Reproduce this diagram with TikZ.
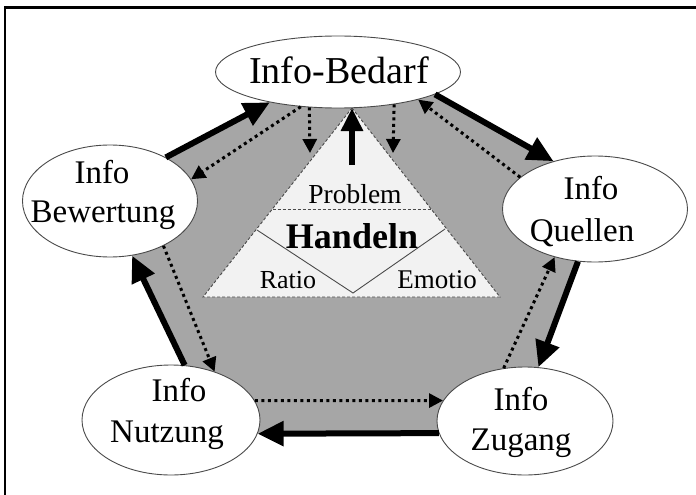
\documentclass[tikz,border=0pt]{standalone}
\usepackage{fontspec}
\setmainfont{Liberation Serif}
\usetikzlibrary{arrows.meta,shapes.geometric}
\definecolor{panelgray}{HTML}{A6A6A6}
\definecolor{trifill}{HTML}{F2F2F2}
\definecolor{edgegray}{HTML}{4A4A4A}

\begin{document}
\begin{tikzpicture}[x=1pt,y=-1pt,
  phase/.style={ellipse, draw=edgegray, line width=0.9pt, fill=white, inner sep=0pt},
  flow/.style={line width=6pt, -{Triangle[length=26pt,width=24pt]}},
  feedback/.style={line width=3pt, dash pattern=on 3pt off 3.5pt,
    -{Triangle[length=14pt,width=14pt]}},
  lbl/.style={anchor=base, inner sep=0pt, font=\fontsize{33}{39}\selectfont},
  inner/.style={anchor=base, inner sep=0pt},
  hairline/.style={draw=edgegray, line width=0.9pt},
  hairdash/.style={hairline, dash pattern=on 3pt off 2pt}
]
\useasboundingbox (0,0) rectangle (696,495);

% frame
\draw[line width=2.5pt] (5,495) -- (5,7.5) -- (696,7.5);

% grey cycle panel
\fill[panelgray] (362,50) -- (604,190) -- (514,433) -- (218,433) -- (102,193) -- cycle;

% central triangle
\coordinate (apex) at (352,108);
\coordinate (tbl) at (203,297);
\coordinate (tbr) at (500,297);
\draw[hairdash, fill=trifill] (apex) -- (tbr) -- (tbl) -- cycle;
\draw[hairdash] (272.5,209) -- (431.5,209);
\draw[hairline] (257,230) -- (353,293) -- (445,229);

% phases
\node[phase, minimum width=245pt, minimum height=72pt] (bed) at (338,72) {};
\node[phase, minimum width=175pt, minimum height=112pt] (bew) at (110,201) {};
\node[phase, minimum width=185pt, minimum height=106pt] (que) at (595,209) {};
\node[phase, minimum width=178pt, minimum height=110pt] (nut) at (171,420) {};
\node[phase, minimum width=176pt, minimum height=108pt] (zug) at (525,421) {};

% outer cycle
\draw[flow] (bew.38) -- (bed.204);
\draw[flow] (bed.347) -- (que.131);
\draw[flow] (que.252) -- (zug.76);
\draw[flow] (zug.188) -- (nut.351);
\draw[flow] (nut.76) -- (bew.292);

% feedback cycle
\draw[feedback] (bed.223) -- (bew.15);
\draw[feedback] (que.157) -- (bed.341);
\draw[feedback] (zug.112) -- (que.230);
\draw[feedback] (nut.13) -- (zug.166);
\draw[feedback] (bew.320) -- (nut.48);

% links to the triangle
\coordinate (dl) at (310,153);
\coordinate (dr) at (393,153);
\coordinate (ubase) at (352,165);
\draw[feedback] (bed.231) -- (dl);
\draw[feedback] (bed.330) -- (dr);
\draw[line width=6pt, -{Triangle[length=23pt,width=21pt]}] (ubase) -- (apex);

% labels
\node[inner, font=\fontsize{38}{44}\selectfont] (tbed) at (339,83) {Info-Bedarf};
\node[lbl] (tbew1) at (102,183) {Info};
\node[lbl] (tbew2) at (103,222) {Bewertung};
\node[lbl] (tque1) at (591,199) {Info};
\node[lbl] (tque2) at (582,241) {Quellen};
\node[lbl] (tnut1) at (179,401) {Info};
\node[lbl] (tnut2) at (167,442) {Nutzung};
\node[lbl] (tzug1) at (521,410) {Info};
\node[lbl] (tzug2) at (521,450) {Zugang};

\node[inner, font=\fontsize{27.5}{32}\selectfont] (tprob) at (355,203) {Problem};
\node[inner, font=\fontsize{36}{42}\selectfont\bfseries] (thand) at (352,248) {Handeln};
\node[inner, font=\fontsize{26}{30}\selectfont] (tratio) at (288,288) {Ratio};
\node[inner, font=\fontsize{27}{31}\selectfont] (temo) at (437,288) {Emotio};
\end{tikzpicture}
\end{document}
